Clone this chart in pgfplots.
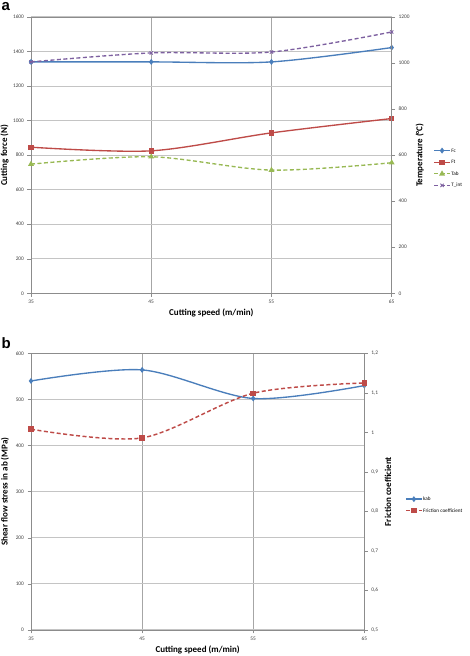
\documentclass[border=0pt]{standalone}
\usepackage{pgfplots}
\pgfplotsset{compat=1.18}
\usepackage{fontspec}
\setmainfont{Carlito}
\newfontfamily\panelfont{Liberation Sans}

\definecolor{xlblue}{HTML}{4A7EBB}
\definecolor{xlred}{HTML}{BE4B48}
\definecolor{xlgreen}{HTML}{98B954}
\definecolor{xlpurple}{HTML}{7D60A0}
\definecolor{hgrid}{HTML}{C4C4C4}
\definecolor{vgrid}{HTML}{A6A6A6}
\definecolor{axgray}{HTML}{8C8C8C}

\newcommand{\labfont}{\fontsize{9}{10}\selectfont\bfseries}

\pgfplotsset{
  xlbase/.style={
    scale only axis,
    xmin=35, xmax=65,
    xtick={35,45,55,65},
    /pgf/number format/assume math mode=true,
    /pgf/number format/1000 sep={},
    tick label style={font=\fontsize{5.4}{6}\selectfont, text=black!75},
    tick align=outside,
    major tick length=3.5pt,
    tick style={axgray, line width=0.5pt},
    axis line style={axgray, line width=0.6pt},
    clip=false,
  },
  xlleft/.style={
    xlbase,
    xtick pos=bottom, ytick pos=left,
    xmajorgrids, ymajorgrids,
    x grid style={vgrid, line width=0.6pt},
    y grid style={hgrid, line width=1pt},
  },
  xlright/.style={
    xlbase,
    axis x line=none,
    axis y line*=right,
  },
  xllegend/.style={
    legend style={draw=none, fill=none, anchor=west,
      font=\fontsize{5.2}{6}\selectfont, inner sep=0pt, row sep=5.4pt,
      nodes={inner sep=0.6pt, text height=4pt, text depth=1pt}},
    legend cell align=left,
    legend image code/.code={
      \draw[mark repeat=2, mark phase=2, #1]
        plot coordinates {(0pt,0pt) (8pt,0pt) (16pt,0pt)};},
  },
  fcline/.style={xlblue, line width=1.35pt, smooth, mark=diamond*, mark size=1.9pt},
  ftline/.style={xlred, line width=1.35pt, smooth, mark=square*, mark size=2pt},
  tabline/.style={xlgreen, line width=1.35pt, smooth, dash pattern=on 4pt off 2.5pt,
    mark=triangle*, mark size=2.1pt, mark options={solid}},
  tintline/.style={xlpurple, line width=1.35pt, smooth, dash pattern=on 4pt off 2.5pt,
    mark=x, mark size=2.3pt, mark options={solid, line width=0.9pt}},
  kabline/.style={xlblue, line width=1.35pt, smooth, mark=diamond*, mark size=1.9pt},
  frline/.style={xlred, line width=1.45pt, smooth, dash pattern=on 4pt off 2.5pt,
    mark=square*, mark size=2pt, mark options={solid}},
}

\begin{document}
\begin{tikzpicture}
\useasboundingbox (0pt,0pt) rectangle (469pt,656pt);

% ---------------- panel a: forces and temperatures ----------------
\begin{axis}[xlleft,
  at={(31pt,362.7pt)}, anchor=south west,
  width=360.7pt, height=276.3pt,
  ymin=0, ymax=1600, ytick={0,200,...,1600},
  xlabel={Cutting speed (m/min)},
  ylabel={Cutting force (N)},
  every axis x label/.style={at={(axis description cs:0.5,-0.0713)}, anchor=center, font=\labfont},
  every axis y label/.style={at={(axis description cs:-0.0734,0.5)}, anchor=center, rotate=90, font=\labfont},
]
  \addplot[fcline] coordinates {(35,1340) (45,1340) (55,1340) (65,1423)};
  \addplot[ftline] coordinates {(35,846) (45,825) (55,929) (65,1012)};
\end{axis}

\begin{axis}[xlright, xllegend,
  at={(31pt,362.7pt)}, anchor=south west,
  width=360.7pt, height=276.3pt,
  ymin=0, ymax=1200, ytick={0,200,...,1200},
  ylabel={Temperature (°C)},
  every axis y label/.style={at={(axis description cs:1.0776,0.5)}, anchor=center, rotate=90, font=\labfont},
  legend style={at={(axis description cs:1.115,0.4535)}},
]
  \addlegendimage{fcline}\addlegendentry{Fc}
  \addlegendimage{ftline}\addlegendentry{Ft}
  \addplot[tabline] coordinates {(35,561) (45,593) (55,535) (65,567)};
  \addlegendentry{Tab}
  \addplot[tintline] coordinates {(35,1005) (45,1044) (55,1048) (65,1135)};
  \addlegendentry{T\_int}
\end{axis}

% ---------------- panel b: shear flow stress and friction ----------------
\begin{axis}[xlleft,
  at={(31pt,26pt)}, anchor=south west,
  width=333.3pt, height=276.7pt,
  ymin=0, ymax=600, ytick={0,100,...,600},
  xlabel={Cutting speed (m/min)},
  ylabel={Shear flow stress in ab (MPa)},
  every axis x label/.style={at={(axis description cs:0.5,-0.0723)}, anchor=center, font=\labfont},
  every axis y label/.style={at={(axis description cs:-0.078,0.5)}, anchor=center, rotate=90, font=\labfont},
]
  \addplot[kabline] coordinates {(35,540) (45,564) (55,502) (65,530)};
\end{axis}

\begin{axis}[xlright, xllegend,
  at={(31pt,26pt)}, anchor=south west,
  width=333.3pt, height=276.7pt,
  ymin=0.5, ymax=1.2,
  ytick={0.5,0.6,0.7,0.8,0.9,1,1.1,1.2},
  yticklabels={{0,5},{0,6},{0,7},{0,8},{0,9},{1},{1,1},{1,2}},
  ylabel={Friction coefficient},
  every axis y label/.style={at={(axis description cs:1.071,0.5)}, anchor=center, rotate=90, font=\labfont},
  legend style={at={(axis description cs:1.122,0.452)}},
]
  \addlegendimage{kabline}\addlegendentry{kab}
  \addplot[frline] coordinates {(35,1.008) (45,0.986) (55,1.099) (65,1.125)};
  \addlegendentry{Friction coefficient}
\end{axis}

% panel letters
\node[anchor=base west, inner sep=0pt, font=\panelfont\fontsize{15}{15}\selectfont\bfseries]
  at (1.5pt,645pt) {a};
\node[anchor=base west, inner sep=0pt, font=\panelfont\fontsize{15}{15}\selectfont\bfseries]
  at (1.5pt,307.7pt) {b};
\end{tikzpicture}
\end{document}
